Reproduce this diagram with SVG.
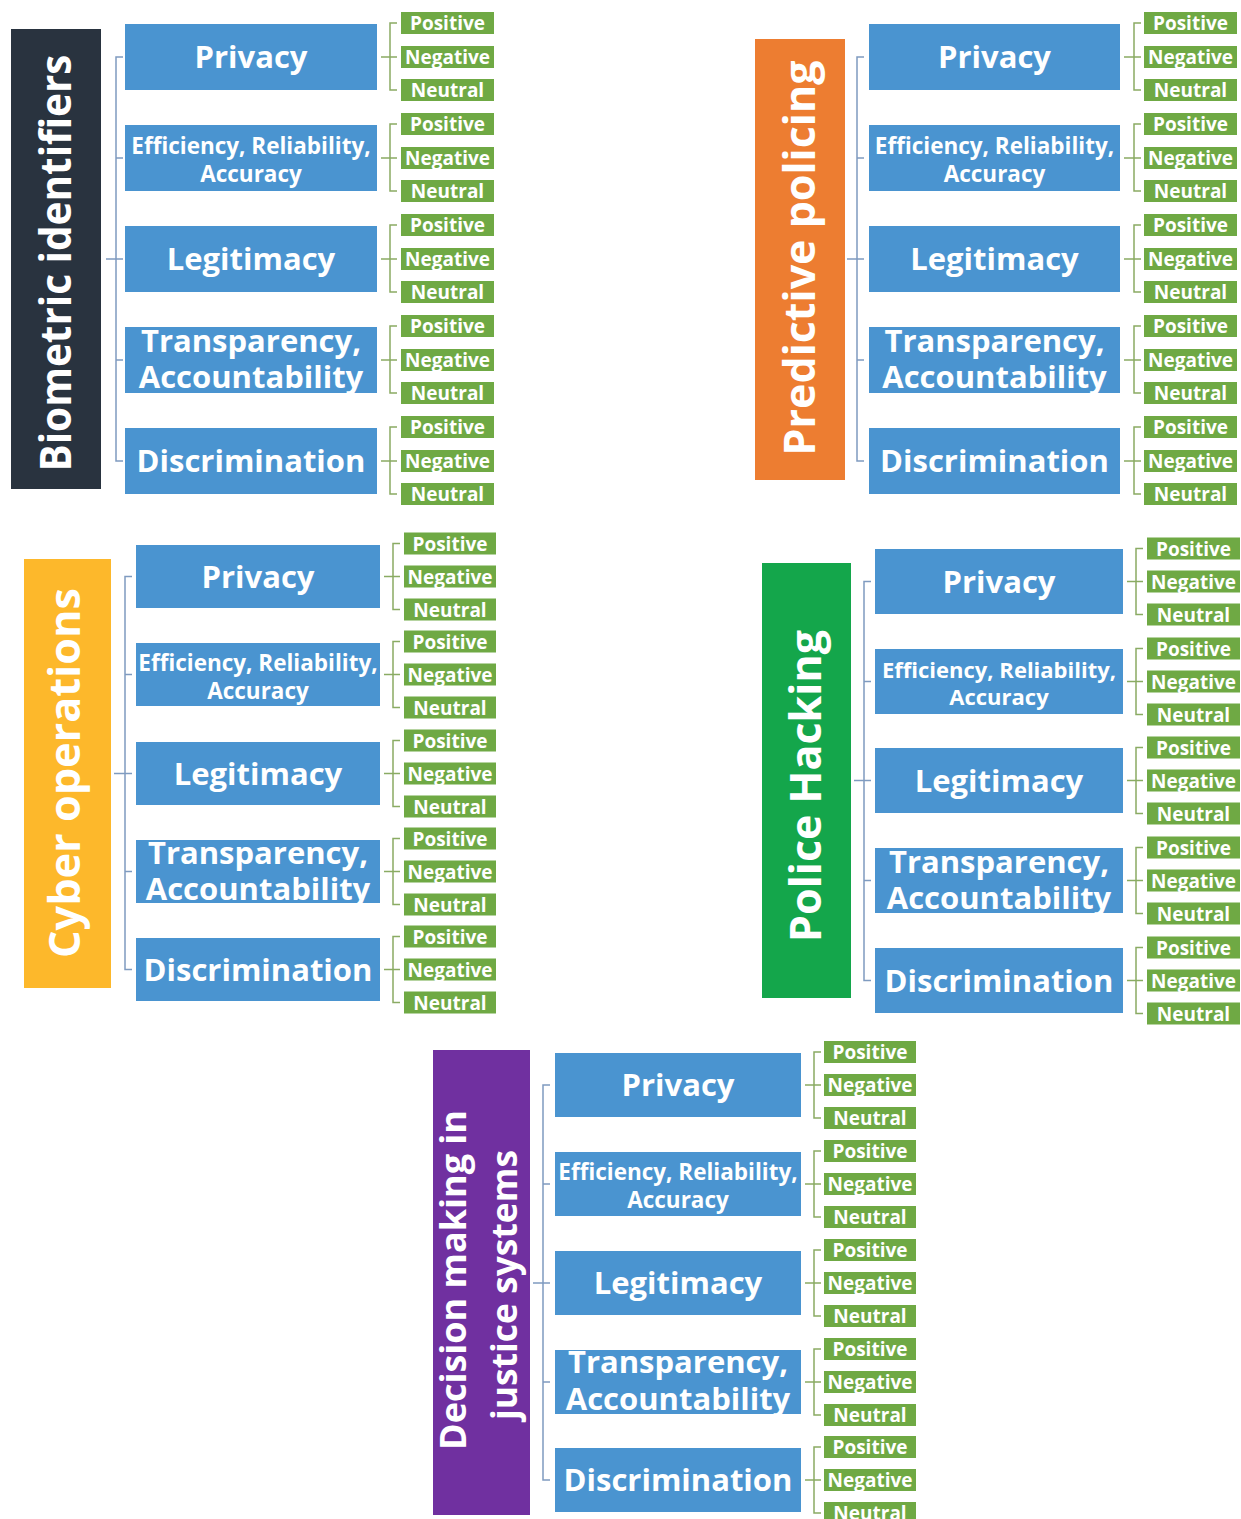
<svg xmlns="http://www.w3.org/2000/svg" width="1241" height="1519" viewBox="0 0 1241 1519">
<style>
text{font-family:"Open Sans","DejaVu Sans",sans-serif;font-weight:700;fill:#fff;text-anchor:middle}
.title{font-size:43px}
.tl2{font-size:36px}
.tp{fill:#4a94d0}
.tt{font-size:31px}
.te{font-size:22.5px}
.ted{font-size:22px}
.g{fill:#6fa944}
.gt{font-size:19px}
.mb{stroke:#7f9bc0;stroke-width:1.5;fill:none}
.sb{stroke:#8aab63;stroke-width:1.5;fill:none}
</style>
<rect width="1241" height="1519" fill="#fff"/>

<g id="connectors">
<path class="mb" d="M123,57 H116 V461 H123 M116,158 H123 M116,259 H123 M116,360 H123 M106,259 H116"/>
<path class="sb" d="M397,23 H390 V90 H397 M381,57 H397 M397,124 H390 V191 H397 M381,158 H397 M397,225 H390 V292 H397 M381,259 H397 M397,326 H390 V393 H397 M381,360 H397 M397,427 H390 V494 H397 M381,461 H397"/>
<path class="mb" d="M864,57 H857 V461 H864 M857,158 H864 M857,259 H864 M857,360 H864 M847,259 H857"/>
<path class="sb" d="M1141,23 H1134 V90 H1141 M1124,57 H1141 M1141,124 H1134 V191 H1141 M1124,158 H1141 M1141,225 H1134 V292 H1141 M1124,259 H1141 M1141,326 H1134 V393 H1141 M1124,360 H1141 M1141,427 H1134 V494 H1141 M1124,461 H1141"/>
<path class="mb" d="M132,576.5 H125 V969.5 H132 M125,674.5 H132 M125,773.5 H132 M125,871.5 H132 M114,773.5 H125"/>
<path class="sb" d="M400,543.5 H393 V609.5 H400 M384,576.5 H400 M400,641.5 H393 V707.5 H400 M384,674.5 H400 M400,740.5 H393 V806.5 H400 M384,773.5 H400 M400,838.5 H393 V904.5 H400 M384,871.5 H400 M400,936.5 H393 V1002.5 H400 M384,969.5 H400"/>
<path class="mb" d="M871,581.5 H864 V980.5 H871 M864,681.5 H871 M864,780.5 H871 M864,880.5 H871 M854,780.5 H864"/>
<path class="sb" d="M1143,548.5 H1136 V614.5 H1143 M1127,581.5 H1143 M1143,648.5 H1136 V714.5 H1143 M1127,681.5 H1143 M1143,747.5 H1136 V813.5 H1143 M1127,780.5 H1143 M1143,847.5 H1136 V913.5 H1143 M1127,880.5 H1143 M1143,947.5 H1136 V1013.5 H1143 M1127,980.5 H1143"/>
<path class="mb" d="M550,1085 H543 V1480 H550 M543,1184 H550 M543,1283 H550 M543,1382 H550 M533,1283 H543"/>
<path class="sb" d="M821,1052 H814 V1118 H821 M805,1085 H821 M821,1151 H814 V1217 H821 M805,1184 H821 M821,1250 H814 V1316 H821 M805,1283 H821 M821,1349 H814 V1415 H821 M805,1382 H821 M821,1447 H814 V1513 H821 M805,1480 H821"/>
</g>

<!-- Block A: Biometric identifiers -->
<g id="biometric-identifiers">
<rect x="11" y="29" width="90" height="460" fill="#29333f"/>
<text class="title" transform="translate(71,263) rotate(-90)" textLength="417" lengthAdjust="spacingAndGlyphs">Biometric identifiers</text>
</g>
<g id="a-privacy"><rect class="tp" x="125" y="24" width="252" height="66"/><text class="tt" x="251" y="68">Privacy</text></g>
<g id="a-efficiency"><rect class="tp" x="125" y="125" width="252" height="66"/><text class="te" x="251" y="154">Efficiency, Reliability,</text><text class="te" x="251" y="182">Accuracy</text></g>
<g id="a-legitimacy"><rect class="tp" x="125" y="226" width="252" height="66"/><text class="tt" x="251" y="270">Legitimacy</text></g>
<g id="a-transparency"><rect class="tp" x="125" y="327" width="252" height="66"/><text class="tt" x="251" y="352">Transparency,</text><text class="tt" x="251" y="388">Accountability</text></g>
<g id="a-discrimination"><rect class="tp" x="125" y="428" width="252" height="66"/><text class="tt" x="251" y="472">Discrimination</text></g>
<g id="a-sentiments">
<rect class="g" x="401" y="12" width="93" height="22"/><text class="gt" x="447.5" y="30">Positive</text>
<rect class="g" x="401" y="46" width="93" height="22"/><text class="gt" x="447.5" y="64">Negative</text>
<rect class="g" x="401" y="79" width="93" height="22"/><text class="gt" x="447.5" y="97">Neutral</text>
<rect class="g" x="401" y="113" width="93" height="22"/><text class="gt" x="447.5" y="131">Positive</text>
<rect class="g" x="401" y="147" width="93" height="22"/><text class="gt" x="447.5" y="165">Negative</text>
<rect class="g" x="401" y="180" width="93" height="22"/><text class="gt" x="447.5" y="198">Neutral</text>
<rect class="g" x="401" y="214" width="93" height="22"/><text class="gt" x="447.5" y="232">Positive</text>
<rect class="g" x="401" y="248" width="93" height="22"/><text class="gt" x="447.5" y="266">Negative</text>
<rect class="g" x="401" y="281" width="93" height="22"/><text class="gt" x="447.5" y="299">Neutral</text>
<rect class="g" x="401" y="315" width="93" height="22"/><text class="gt" x="447.5" y="333">Positive</text>
<rect class="g" x="401" y="349" width="93" height="22"/><text class="gt" x="447.5" y="367">Negative</text>
<rect class="g" x="401" y="382" width="93" height="22"/><text class="gt" x="447.5" y="400">Neutral</text>
<rect class="g" x="401" y="416" width="93" height="22"/><text class="gt" x="447.5" y="434">Positive</text>
<rect class="g" x="401" y="450" width="93" height="22"/><text class="gt" x="447.5" y="468">Negative</text>
<rect class="g" x="401" y="483" width="93" height="22"/><text class="gt" x="447.5" y="501">Neutral</text>
</g>

<!-- Block B: Predictive policing -->
<g id="predictive-policing">
<rect x="755" y="39" width="90" height="441" fill="#ed7d31"/>
<text class="title" transform="translate(815,258) rotate(-90)" textLength="395" lengthAdjust="spacingAndGlyphs">Predictive policing</text>
</g>
<g id="b-privacy"><rect class="tp" x="869" y="24" width="251" height="66"/><text class="tt" x="994.5" y="68">Privacy</text></g>
<g id="b-efficiency"><rect class="tp" x="869" y="125" width="251" height="66"/><text class="te" x="994.5" y="154">Efficiency, Reliability,</text><text class="te" x="994.5" y="182">Accuracy</text></g>
<g id="b-legitimacy"><rect class="tp" x="869" y="226" width="251" height="66"/><text class="tt" x="994.5" y="270">Legitimacy</text></g>
<g id="b-transparency"><rect class="tp" x="869" y="327" width="251" height="66"/><text class="tt" x="994.5" y="352">Transparency,</text><text class="tt" x="994.5" y="388">Accountability</text></g>
<g id="b-discrimination"><rect class="tp" x="869" y="428" width="251" height="66"/><text class="tt" x="994.5" y="472">Discrimination</text></g>
<g id="b-sentiments">
<rect class="g" x="1144" y="12" width="93" height="22"/><text class="gt" x="1190.5" y="30">Positive</text>
<rect class="g" x="1144" y="46" width="93" height="22"/><text class="gt" x="1190.5" y="64">Negative</text>
<rect class="g" x="1144" y="79" width="93" height="22"/><text class="gt" x="1190.5" y="97">Neutral</text>
<rect class="g" x="1144" y="113" width="93" height="22"/><text class="gt" x="1190.5" y="131">Positive</text>
<rect class="g" x="1144" y="147" width="93" height="22"/><text class="gt" x="1190.5" y="165">Negative</text>
<rect class="g" x="1144" y="180" width="93" height="22"/><text class="gt" x="1190.5" y="198">Neutral</text>
<rect class="g" x="1144" y="214" width="93" height="22"/><text class="gt" x="1190.5" y="232">Positive</text>
<rect class="g" x="1144" y="248" width="93" height="22"/><text class="gt" x="1190.5" y="266">Negative</text>
<rect class="g" x="1144" y="281" width="93" height="22"/><text class="gt" x="1190.5" y="299">Neutral</text>
<rect class="g" x="1144" y="315" width="93" height="22"/><text class="gt" x="1190.5" y="333">Positive</text>
<rect class="g" x="1144" y="349" width="93" height="22"/><text class="gt" x="1190.5" y="367">Negative</text>
<rect class="g" x="1144" y="382" width="93" height="22"/><text class="gt" x="1190.5" y="400">Neutral</text>
<rect class="g" x="1144" y="416" width="93" height="22"/><text class="gt" x="1190.5" y="434">Positive</text>
<rect class="g" x="1144" y="450" width="93" height="22"/><text class="gt" x="1190.5" y="468">Negative</text>
<rect class="g" x="1144" y="483" width="93" height="22"/><text class="gt" x="1190.5" y="501">Neutral</text>
</g>

<!-- Block C: Cyber operations -->
<g id="cyber-operations">
<rect x="24" y="559" width="87" height="429" fill="#fdb82b"/>
<text class="title" transform="translate(80,773) rotate(-90)" textLength="370" lengthAdjust="spacingAndGlyphs">Cyber operations</text>
</g>
<g id="c-privacy"><rect class="tp" x="136" y="545" width="244" height="63"/><text class="tt" x="258" y="587.5">Privacy</text></g>
<g id="c-efficiency"><rect class="tp" x="136" y="643" width="244" height="63"/><text class="te" x="258" y="670.5">Efficiency, Reliability,</text><text class="te" x="258" y="698.5">Accuracy</text></g>
<g id="c-legitimacy"><rect class="tp" x="136" y="742" width="244" height="63"/><text class="tt" x="258" y="784.5">Legitimacy</text></g>
<g id="c-transparency"><rect class="tp" x="136" y="840" width="244" height="63"/><text class="tt" x="258" y="863.5">Transparency,</text><text class="tt" x="258" y="899.5">Accountability</text></g>
<g id="c-discrimination"><rect class="tp" x="136" y="938" width="244" height="63"/><text class="tt" x="258" y="980.5">Discrimination</text></g>
<g id="c-sentiments">
<rect class="g" x="404" y="532.5" width="92" height="22"/><text class="gt" x="450" y="550.5">Positive</text>
<rect class="g" x="404" y="565.5" width="92" height="22"/><text class="gt" x="450" y="583.5">Negative</text>
<rect class="g" x="404" y="598.5" width="92" height="22"/><text class="gt" x="450" y="616.5">Neutral</text>
<rect class="g" x="404" y="630.5" width="92" height="22"/><text class="gt" x="450" y="648.5">Positive</text>
<rect class="g" x="404" y="663.5" width="92" height="22"/><text class="gt" x="450" y="681.5">Negative</text>
<rect class="g" x="404" y="696.5" width="92" height="22"/><text class="gt" x="450" y="714.5">Neutral</text>
<rect class="g" x="404" y="729.5" width="92" height="22"/><text class="gt" x="450" y="747.5">Positive</text>
<rect class="g" x="404" y="762.5" width="92" height="22"/><text class="gt" x="450" y="780.5">Negative</text>
<rect class="g" x="404" y="795.5" width="92" height="22"/><text class="gt" x="450" y="813.5">Neutral</text>
<rect class="g" x="404" y="827.5" width="92" height="22"/><text class="gt" x="450" y="845.5">Positive</text>
<rect class="g" x="404" y="860.5" width="92" height="22"/><text class="gt" x="450" y="878.5">Negative</text>
<rect class="g" x="404" y="893.5" width="92" height="22"/><text class="gt" x="450" y="911.5">Neutral</text>
<rect class="g" x="404" y="925.5" width="92" height="22"/><text class="gt" x="450" y="943.5">Positive</text>
<rect class="g" x="404" y="958.5" width="92" height="22"/><text class="gt" x="450" y="976.5">Negative</text>
<rect class="g" x="404" y="991.5" width="92" height="22"/><text class="gt" x="450" y="1009.5">Neutral</text>
</g>

<!-- Block D: Police Hacking -->
<g id="police-hacking">
<rect x="762" y="563" width="89" height="435" fill="#14a64b"/>
<text class="title" transform="translate(821,786) rotate(-90)" textLength="312" lengthAdjust="spacingAndGlyphs">Police Hacking</text>
</g>
<g id="d-privacy"><rect class="tp" x="875" y="549" width="248" height="65"/><text class="tt" x="999" y="592.5">Privacy</text></g>
<g id="d-efficiency"><rect class="tp" x="875" y="649" width="248" height="65"/><text class="ted" x="999" y="677.5">Efficiency, Reliability,</text><text class="ted" x="999" y="705">Accuracy</text></g>
<g id="d-legitimacy"><rect class="tp" x="875" y="748" width="248" height="65"/><text class="tt" x="999" y="791.5">Legitimacy</text></g>
<g id="d-transparency"><rect class="tp" x="875" y="848" width="248" height="65"/><text class="tt" x="999" y="872.5">Transparency,</text><text class="tt" x="999" y="908.5">Accountability</text></g>
<g id="d-discrimination"><rect class="tp" x="875" y="948" width="248" height="65"/><text class="tt" x="999" y="991.5">Discrimination</text></g>
<g id="d-sentiments">
<rect class="g" x="1147" y="537.5" width="93" height="22"/><text class="gt" x="1193.5" y="555.5">Positive</text>
<rect class="g" x="1147" y="570.5" width="93" height="22"/><text class="gt" x="1193.5" y="588.5">Negative</text>
<rect class="g" x="1147" y="603.5" width="93" height="22"/><text class="gt" x="1193.5" y="621.5">Neutral</text>
<rect class="g" x="1147" y="637.5" width="93" height="22"/><text class="gt" x="1193.5" y="655.5">Positive</text>
<rect class="g" x="1147" y="670.5" width="93" height="22"/><text class="gt" x="1193.5" y="688.5">Negative</text>
<rect class="g" x="1147" y="703.5" width="93" height="22"/><text class="gt" x="1193.5" y="721.5">Neutral</text>
<rect class="g" x="1147" y="736.5" width="93" height="22"/><text class="gt" x="1193.5" y="754.5">Positive</text>
<rect class="g" x="1147" y="769.5" width="93" height="22"/><text class="gt" x="1193.5" y="787.5">Negative</text>
<rect class="g" x="1147" y="802.5" width="93" height="22"/><text class="gt" x="1193.5" y="820.5">Neutral</text>
<rect class="g" x="1147" y="836.5" width="93" height="22"/><text class="gt" x="1193.5" y="854.5">Positive</text>
<rect class="g" x="1147" y="869.5" width="93" height="22"/><text class="gt" x="1193.5" y="887.5">Negative</text>
<rect class="g" x="1147" y="902.5" width="93" height="22"/><text class="gt" x="1193.5" y="920.5">Neutral</text>
<rect class="g" x="1147" y="936.5" width="93" height="22"/><text class="gt" x="1193.5" y="954.5">Positive</text>
<rect class="g" x="1147" y="969.5" width="93" height="22"/><text class="gt" x="1193.5" y="987.5">Negative</text>
<rect class="g" x="1147" y="1002.5" width="93" height="22"/><text class="gt" x="1193.5" y="1020.5">Neutral</text>
</g>

<!-- Block E: Decision making in justice systems -->
<g id="decision-making">
<rect x="433" y="1050" width="97" height="465" fill="#7030a0"/>
<text class="tl2" transform="translate(466,1280) rotate(-90)" textLength="340" lengthAdjust="spacingAndGlyphs">Decision making in</text>
<text class="tl2" transform="translate(517,1285) rotate(-90)" textLength="270" lengthAdjust="spacingAndGlyphs">justice systems</text>
</g>
<g id="e-privacy"><rect class="tp" x="555" y="1053" width="246" height="64"/><text class="tt" x="678" y="1096">Privacy</text></g>
<g id="e-efficiency"><rect class="tp" x="555" y="1152" width="246" height="64"/><text class="te" x="678" y="1180">Efficiency, Reliability,</text><text class="te" x="678" y="1208">Accuracy</text></g>
<g id="e-legitimacy"><rect class="tp" x="555" y="1251" width="246" height="64"/><text class="tt" x="678" y="1294">Legitimacy</text></g>
<g id="e-transparency"><rect class="tp" x="555" y="1350" width="246" height="64"/><text class="tt" x="678" y="1373">Transparency,</text><text class="tt" x="678" y="1410">Accountability</text></g>
<g id="e-discrimination"><rect class="tp" x="555" y="1448" width="246" height="64"/><text class="tt" x="678" y="1491">Discrimination</text></g>
<g id="e-sentiments">
<rect class="g" x="824" y="1041" width="92" height="22"/><text class="gt" x="870" y="1059">Positive</text>
<rect class="g" x="824" y="1074" width="92" height="22"/><text class="gt" x="870" y="1092">Negative</text>
<rect class="g" x="824" y="1107" width="92" height="22"/><text class="gt" x="870" y="1125">Neutral</text>
<rect class="g" x="824" y="1140" width="92" height="22"/><text class="gt" x="870" y="1158">Positive</text>
<rect class="g" x="824" y="1173" width="92" height="22"/><text class="gt" x="870" y="1191">Negative</text>
<rect class="g" x="824" y="1206" width="92" height="22"/><text class="gt" x="870" y="1224">Neutral</text>
<rect class="g" x="824" y="1239" width="92" height="22"/><text class="gt" x="870" y="1257">Positive</text>
<rect class="g" x="824" y="1272" width="92" height="22"/><text class="gt" x="870" y="1290">Negative</text>
<rect class="g" x="824" y="1305" width="92" height="22"/><text class="gt" x="870" y="1323">Neutral</text>
<rect class="g" x="824" y="1338" width="92" height="22"/><text class="gt" x="870" y="1356">Positive</text>
<rect class="g" x="824" y="1371" width="92" height="22"/><text class="gt" x="870" y="1389">Negative</text>
<rect class="g" x="824" y="1404" width="92" height="22"/><text class="gt" x="870" y="1422">Neutral</text>
<rect class="g" x="824" y="1436" width="92" height="22"/><text class="gt" x="870" y="1454">Positive</text>
<rect class="g" x="824" y="1469" width="92" height="22"/><text class="gt" x="870" y="1487">Negative</text>
<rect class="g" x="824" y="1502" width="92" height="22"/><text class="gt" x="870" y="1520">Neutral</text>
</g>
</svg>
